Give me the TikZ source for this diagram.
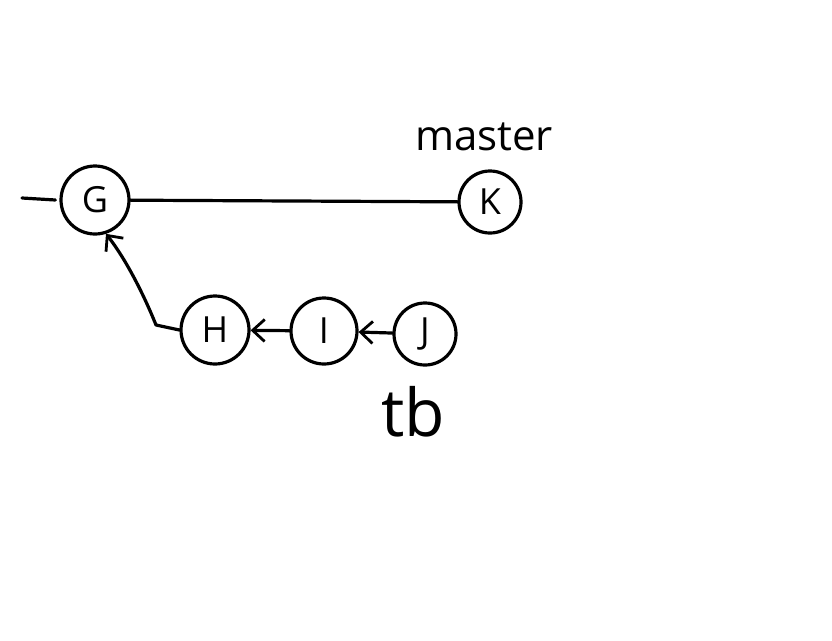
\documentclass[tikz,border=0pt]{standalone}
\usepackage{fontspec}
\setmainfont{Open Sans}
\usetikzlibrary{arrows.meta}
\begin{document}
\begin{tikzpicture}[x=1pt,y=-1pt,
  line width=3.2pt, line cap=round, line join=round,
  commit/.style={draw, circle, inner sep=0pt, font=\fontsize{36}{40}\selectfont},
  link/.style={-{Straight Barb[length=12pt,width=22pt,line width=2.8pt]}},
  label/.style={inner sep=0pt}]
  \useasboundingbox (0,0) rectangle (832,640);

  % commits
  \node[commit, minimum size=68pt] (G) at (95,200) {G};
  \node[commit, minimum size=62pt] (K) at (490,202) {K};
  \node[commit, minimum size=68pt] (H) at (215,330) {H};
  \node[commit, minimum size=66pt] (I) at (324,331) {I};
  \node[commit, minimum size=62pt] (J) at (425,334) {J};

  % branch names
  \node[label, font=\fontsize{42}{46}\selectfont] (master) at (484,137) {master};
  \node[label, font=\fontsize{66}{70}\selectfont] (tb) at (413,412) {tb};

  % history before G
  \coordinate (past) at (22,198);
  \draw (past) -- ([xshift=-4pt]G.west);

  % master line
  \draw (G) -- (K);

  % topic branch
  \draw[link] (J) -- (I);
  \draw[link] (I) -- (H);
  \coordinate (bend) at (156,325);
  \draw[link] (H.west) -- (bend) .. controls (146,300) and (128,262) .. (G.-72);
\end{tikzpicture}
\end{document}
